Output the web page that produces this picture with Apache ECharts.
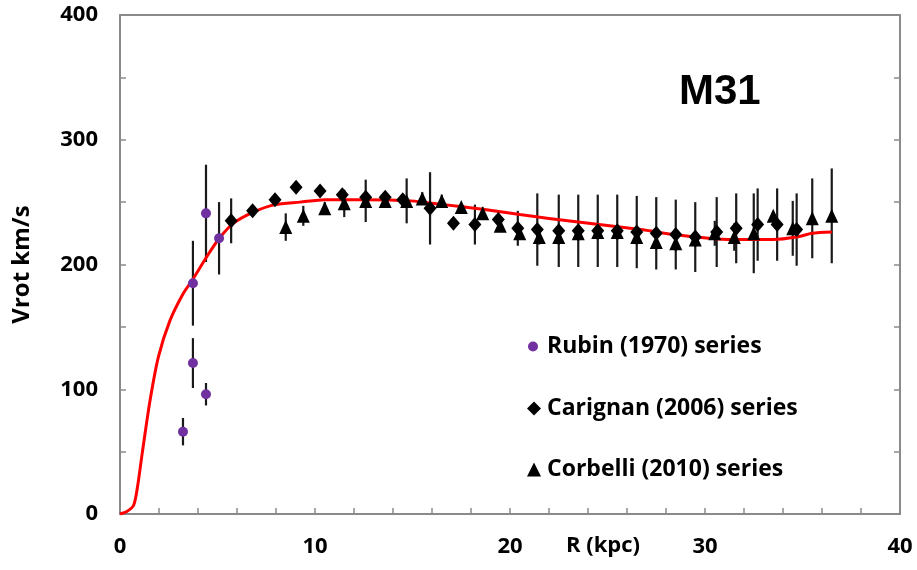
<!DOCTYPE html>
<html>
<head>
<meta charset="utf-8">
<script src="https://cdn.jsdelivr.net/npm/echarts@6/dist/echarts.min.js"></script>
<style>html,body{margin:0;padding:0;background:#fff}#c{width:917px;height:570px}</style>
</head>
<body>
<div id="c"></div>
<script>
// Rubin (1970)
const rubinR = [3.23, 3.74, 3.74, 4.41, 4.41, 5.08];
const rubinV = [66, 121, 185, 96, 241, 221];
const rubinErr = [11, 20, 34, 9, 39, 29];

// Carignan (2006)
const carR = [5.7, 6.8, 7.95, 9.03, 10.26, 11.4, 12.6, 13.6, 14.5, 15.9, 17.1, 18.2, 19.4, 20.4, 21.4, 22.5, 23.5, 24.5, 25.5, 26.5, 27.5, 28.5, 29.5, 30.6, 31.6, 32.7, 33.7, 34.7];
const carV = [235, 243, 252, 262, 259, 256, 254, 254, 252, 245, 233, 232, 236, 229, 228, 227, 227, 227, 227, 226, 225, 224, 222, 226, 229, 232, 232, 228];
const carErr = [18, 0, 0, 0, 0, 0, 0, 0, 0, 29, 0, 16, 0, 14, 29, 29, 29, 29, 29, 29, 29, 28, 28, 28, 28, 29, 29, 29];

// Corbelli (2010)
const corR = [8.5, 9.4, 10.5, 11.5, 12.6, 13.6, 14.7, 15.5, 16.5, 17.5, 18.6, 19.5, 20.5, 21.5, 22.5, 23.5, 24.5, 25.5, 26.5, 27.5, 28.5, 29.5, 30.5, 31.5, 32.5, 33.5, 34.5, 35.5, 36.5];
const corV = [230, 239, 245, 249, 251, 251, 251, 253, 251, 246, 241, 231, 225, 222, 222, 225, 226, 226, 222, 218, 217, 220, 225, 222, 225, 239, 229, 237, 239];
const corErr = [11, 8, 5, 11, 17, 5, 18, 5, 5, 3, 5, 3, 0, 6, 6, 6, 6, 6, 6, 6, 6, 6, 10, 11, 32, 0, 22, 32, 38];

// Model curve
const curveR = [0, 0.35, 0.7, 0.9, 1.16, 1.54, 1.97, 2.56, 3.25, 3.73, 4.44, 5.09, 5.81, 6.84, 7.95, 9.23, 10.5, 12.6, 14.9, 16.6, 18.7, 20.5, 23.5, 26.7, 28.4, 30.2, 31.4, 32.5, 33.5, 34.7, 35.5, 36.5];
const curveV = [0, 2, 7, 22, 51, 91, 126, 155, 177, 188, 206, 221, 233, 242, 248, 250, 252, 252, 251, 248, 244, 240, 234, 228, 224, 221, 220, 220, 220, 222, 225, 226];

const xTickLabels = [0, 10, 20, 30, 40];
const yTickLabels = [0, 100, 200, 300, 400];

const zip2 = (a, b) => a.map((v, i) => [v, b[i]]);
const zip3 = (a, b, c) => a.map((v, i) => [v, b[i], c[i]]);

const errData = [].concat(
  zip3(rubinR, rubinV, rubinErr),
  zip3(carR, carV, carErr),
  zip3(corR, corV, corErr)
).filter(d => d[2] > 0);

const FONT = 'Open Sans';
const axisColor = '#8a8a8a';

const chart = echarts.init(document.getElementById('c'), null, {renderer: 'canvas'});
chart.setOption({
  animation: false,
  backgroundColor: '#fff',
  grid: {left: 120, right: 17, top: 15, bottom: 56},
  title: {
    text: 'M31', left: 674, top: 66,
    textStyle: {fontFamily: 'Liberation Sans', fontWeight: 'bold', fontSize: 42, color: '#000'}
  },
  legend: [
    {data: ['Rubin (1970) series'], left: 523, top: 330, itemWidth: 10, itemHeight: 10, itemGap: 0,
     textStyle: {fontFamily: FONT, fontWeight: 'bold', fontSize: 23, color: '#000', padding: [0,0,0,4]}},
    {data: ['Carignan (2006) series'], left: 522, top: 392, itemWidth: 14, itemHeight: 14, itemGap: 0,
     textStyle: {fontFamily: FONT, fontWeight: 'bold', fontSize: 23, color: '#000', padding: [0,0,0,1]}},
    {data: ['Corbelli (2010) series'], left: 522, top: 453, itemWidth: 14, itemHeight: 14, itemGap: 0,
     textStyle: {fontFamily: FONT, fontWeight: 'bold', fontSize: 23, color: '#000', padding: [0,0,0,1]}}
  ],
  xAxis: [{
    type: 'value', min: 0, max: 40, interval: 2,
    axisLine: {show: true, onZero: false, lineStyle: {color: axisColor, width: 2}},
    axisTick: {show: true, inside: true, length: 6, lineStyle: {color: axisColor, width: 1.5}},
    splitLine: {show: false},
    axisLabel: {
      margin: 22, color: '#000', fontFamily: FONT, fontWeight: 'bold', fontSize: 22,
      formatter: v => xTickLabels.indexOf(v) >= 0 ? String(v) : ''
    }
  }, {
    type: 'value', min: 0, max: 40, position: 'top',
    axisLine: {show: true, onZero: false, lineStyle: {color: axisColor, width: 2}},
    axisTick: {show: false}, axisLabel: {show: false}, splitLine: {show: false}
  }],
  yAxis: [{
    type: 'value', min: 0, max: 400, interval: 50,
    name: 'Vrot km/s', nameLocation: 'middle', nameGap: 86,
    nameTextStyle: {fontFamily: FONT, fontWeight: 'bold', fontSize: 24, color: '#000'},
    axisLine: {show: true, onZero: false, lineStyle: {color: axisColor, width: 2}},
    axisTick: {show: true, inside: true, length: 6, lineStyle: {color: axisColor, width: 1.5}},
    splitLine: {show: false},
    axisLabel: {
      margin: 22, color: '#000', fontFamily: FONT, fontWeight: 'bold', fontSize: 22,
      formatter: v => yTickLabels.indexOf(v) >= 0 ? String(v) : ''
    }
  }, {
    type: 'value', min: 0, max: 400, interval: 50, position: 'right',
    axisLine: {show: true, onZero: false, lineStyle: {color: axisColor, width: 2}},
    axisTick: {show: true, inside: true, length: 6, lineStyle: {color: axisColor, width: 1.5}},
    axisLabel: {show: false}, splitLine: {show: false}
  }],
  graphic: [{
    type: 'text', left: 566, top: 535,
    style: {text: 'R (kpc)', fontFamily: FONT, fontWeight: 'bold', fontSize: 22, fill: '#000'}
  }],
  series: [
    {
      name: 'errors', type: 'custom', z: 2,
      renderItem: (params, api) => {
        const x = api.value(0), y = api.value(1), e = api.value(2);
        const p1 = api.coord([x, y - e]);
        const p2 = api.coord([x, y + e]);
        return {type: 'line', shape: {x1: p1[0], y1: p1[1], x2: p2[0], y2: p2[1]},
                style: {stroke: 'rgba(0,0,0,0.9)', lineWidth: 2.2}};
      },
      data: errData, silent: true
    },
    {
      name: 'model', type: 'line', data: zip2(curveR, curveV), smooth: 0.25,
      showSymbol: false, symbol: 'none', z: 3,
      lineStyle: {color: '#ff0000', width: 3}
    },
    {
      name: 'Rubin (1970) series', type: 'scatter', data: zip2(rubinR, rubinV),
      symbol: 'circle', symbolSize: 10, z: 5,
      itemStyle: {color: '#7030a0', opacity: 1}
    },
    {
      name: 'Carignan (2006) series', type: 'scatter', data: zip2(carR, carV),
      symbol: 'diamond', symbolSize: [13, 15], z: 5,
      itemStyle: {color: '#000', opacity: 1}
    },
    {
      name: 'Corbelli (2010) series', type: 'scatter', data: zip2(corR, corV),
      symbol: 'triangle', symbolSize: [13, 14], z: 5,
      itemStyle: {color: '#000', opacity: 1}
    }
  ]
});
</script>
</body>
</html>
